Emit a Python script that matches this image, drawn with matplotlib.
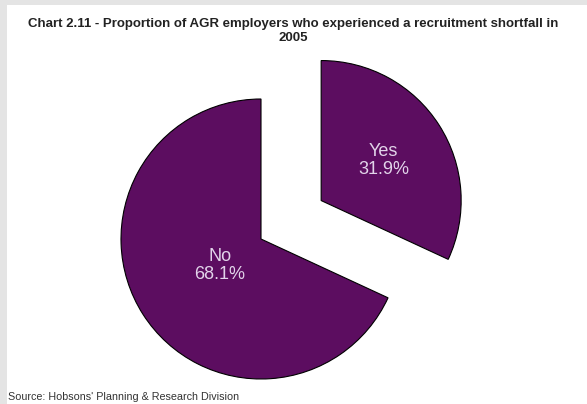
import matplotlib.pyplot as plt
import numpy as np

labels = ["Yes", "No"]
shares = [31.9, 68.1]

W, H = 587, 404
PURPLE = "#5c0d60"
R = 140

fig = plt.figure(figsize=(W / 100, H / 100), dpi=100)
fig.patch.set_facecolor("white")
ax = fig.add_axes([0, 0, 1, 1])
ax.axis("off")

# grey frame along the top and left edges
ax.add_patch(plt.Rectangle((0, H - 5), W, 5, color="#e4e4e4", lw=0))
ax.add_patch(plt.Rectangle((0, 0), 7, H, color="#e4e4e4", lw=0))

# explode is in data units here, so scale it by the radius
wedges, _ = ax.pie(shares, explode=[0.51 * R, 0], center=(261, 165), radius=R,
                   startangle=90, counterclock=False, colors=[PURPLE, PURPLE],
                   wedgeprops=dict(edgecolor="black", linewidth=0.8))
ax.set_xlim(0, W)
ax.set_ylim(0, H)
ax.set_aspect("equal")

# labels placed along each wedge's bisector
dist = [0.53, 0.35]
for w, lab, val, d in zip(wedges, labels, shares, dist):
    ang = np.deg2rad((w.theta1 + w.theta2) / 2)
    cx, cy = w.center
    ax.text(cx + d * w.r * np.cos(ang), cy + d * w.r * np.sin(ang),
            f"{lab}\n{val}%", ha="center", va="center", color="#e2d4ea",
            fontsize=13, family="Liberation Sans", linespacing=1.05)

fig.text(0.5, 1 - 31 / H, "Chart 2.11 - Proportion of AGR employers who experienced a recruitment shortfall in\n2005",
         ha="center", va="center", fontsize=9.5, fontweight="bold",
         family="Liberation Sans", color="#222222", linespacing=1.2)
fig.text(8 / W, 1 - 397 / H, "Source: Hobsons' Planning & Research Division",
         ha="left", va="center", fontsize=7.75, family="Liberation Sans", color="#333333")

fig.savefig("out.png", dpi=100)
